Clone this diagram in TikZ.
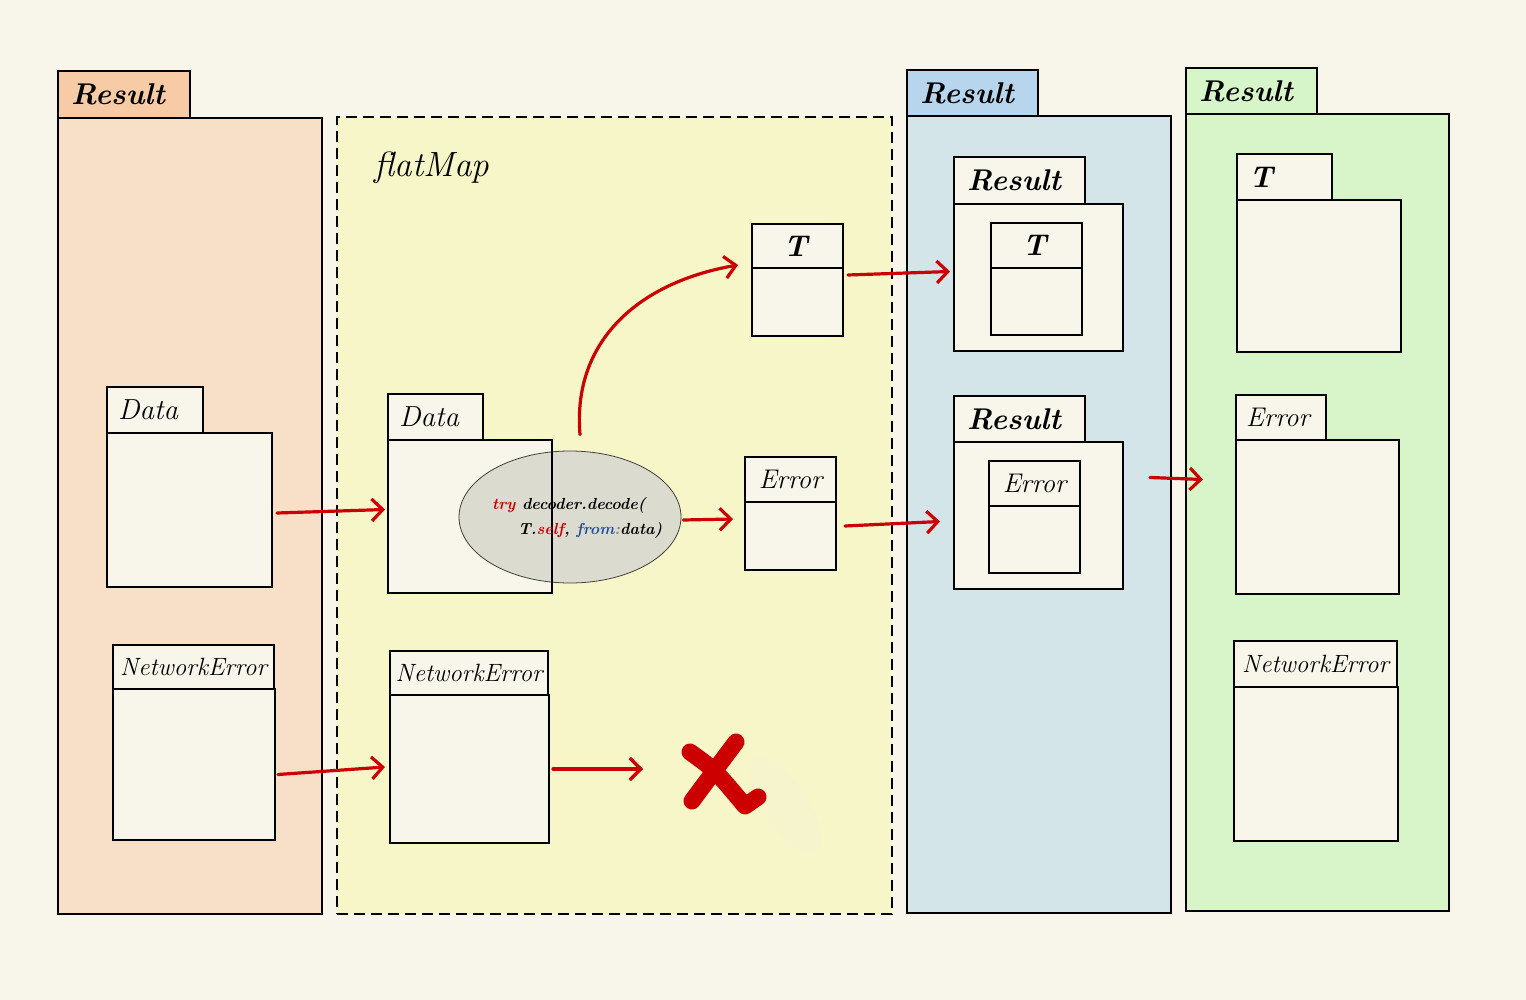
\documentclass[tikz,border=0pt]{standalone}
\usetikzlibrary{arrows.meta,fit,shapes.geometric}
\definecolor{bg}{HTML}{F8F6EA}
\definecolor{cream}{HTML}{F8F6EA}
\definecolor{orTab}{HTML}{F6CBA6}
\definecolor{orBody}{HTML}{F8E0C8}
\definecolor{yeBody}{HTML}{F7F6C8}
\definecolor{blTab}{HTML}{B7D5EC}
\definecolor{blBody}{HTML}{D4E5E9}
\definecolor{grTab}{HTML}{D6F5C8}
\definecolor{grBody}{HTML}{D7F5C8}
\definecolor{arrred}{HTML}{CC0000}
\definecolor{ellgrey}{HTML}{DCDBCF}
\definecolor{codeblue}{HTML}{1F4E9A}
\definecolor{smudge}{HTML}{F3F3D6}
\begin{document}
\begin{tikzpicture}[x=1pt,y=-1pt,
  box/.style={draw=black, line width=1.6pt, fill=cream, inner sep=0pt, outer sep=0pt},
  pan/.style={draw=black, line width=1.6pt, inner sep=0pt, outer sep=0pt},
  arr/.style={draw=arrred, line width=3.2pt, line cap=round, line join=round,
    -{Straight Barb[length=11pt,width=22pt,line width=3.2pt]}},
  rlbl/.style={font=\fontsize{30}{30}\selectfont\bfseries\itshape, inner sep=0pt, anchor=west},
  dlbl/.style={font=\fontsize{29}{29}\selectfont\itshape, inner sep=0pt, anchor=west},
  nlbl/.style={font=\fontsize{25}{25}\selectfont\itshape, inner sep=0pt},
  tlbl/.style={font=\fontsize{30}{30}\selectfont\bfseries\itshape, inner sep=0pt},
  elbl/.style={font=\fontsize{27}{27}\selectfont\itshape, inner sep=0pt},
  code/.style={font=\fontsize{16}{16}\selectfont\bfseries\itshape, inner sep=0pt}
]
\useasboundingbox[fill=bg] (0,0) rectangle (1526,1000);

% ---------- Orange panel ----------
\node[pan, fill=orBody, fit={(58,118) (322,914)}] (opan) {};
\node[pan, fill=orTab, fit={(58,71) (190,118)}] (otab) {};
\node[rlbl] (otabl) at ([xshift=13pt]otab.west) {Result};
\node[box, fit={(107,387) (203,433)}] (odatat) {};
\node[box, fit={(107,433) (272,587)}] (odatab) {};
\node[dlbl] (odatal) at ([xshift=11pt]odatat.west) {Data};
\node[box, fit={(113,645) (274,689)}] (oneth) {};
\node[box, fit={(113,689) (275,840)}] (onetb) {};
\node[nlbl] (onetl) at (oneth.center) {NetworkError};

% ---------- Yellow dashed panel ----------
\node[pan, fill=yeBody, dash pattern=on 11pt off 6pt, fit={(337,117) (892,914)}] (ypan) {};
\node[font=\fontsize{35}{35}\selectfont\itshape, inner sep=0pt] (yflat) at (432,168) {flatMap};
\node[fill=smudge, opacity=0.4, ellipse, rotate=-55, minimum width=110pt, minimum height=45pt, inner sep=0pt] (smudge) at (785,805) {};
\node[box, fit={(388,394) (483,440)}] (ydatat) {};
\node[box, fit={(388,440) (552,593)}] (ydatab) {};
\node[dlbl] (ydatal) at ([xshift=11pt]ydatat.west) {Data};
\node[draw=black!75, line width=0.8pt, fill=ellgrey, ellipse, minimum width=222pt, minimum height=132pt, inner sep=0pt] (ell) at (570,517) {};
\draw[black, line width=1.6pt] (ydatab.north east) -- (ydatab.south east);
\node[code, anchor=west] (code1) at (492,505) {\textcolor{arrred}{try} decoder.decode(};
\node[code, anchor=west] (code2) at (518,530) {T.\textcolor{arrred}{self}, \textcolor{codeblue}{from}\textcolor{black!50}{:}data)};
\node[box, fit={(390,651) (548,695)}] (yneth) {};
\node[box, fit={(390,695) (549,843)}] (ynetb) {};
\node[nlbl] (ynetl) at (yneth.center) {NetworkError};
\node[box, fit={(752,224) (843,268)}] (yth) {};
\node[box, fit={(752,268) (843,336)}] (ytb) {};
\node[tlbl] (ytl) at ([xshift=-2pt]yth.center) {T};
\node[box, fit={(745,457) (836,502)}] (yeh) {};
\node[box, fit={(745,502) (836,570)}] (yeb) {};
\node[elbl] (yel) at (yeh.center) {Error};

% red X
\coordinate (xa) at (690,752);
\coordinate (xb) at (745,806);
\coordinate (xc) at (758,797);
\coordinate (xd) at (736,742);
\coordinate (xe) at (692,801);
\draw[arrred, line width=17pt, line cap=round, line join=round] (xa) .. controls (715,770) .. (xb) -- (xc);
\draw[arrred, line width=17pt, line cap=round] (xd) .. controls (715,770) .. (xe);

% ---------- Blue panel ----------
\node[pan, fill=blBody, fit={(907,116) (1171,913)}] (bpan) {};
\node[pan, fill=blTab, fit={(907,70) (1038,116)}] (btab) {};
\node[rlbl] (btabl) at ([xshift=13pt]btab.west) {Result};
\node[box, fit={(954,157) (1085,204)}] (br1t) {};
\node[box, fit={(954,204) (1123,351)}] (br1b) {};
\node[rlbl] (br1l) at ([xshift=13pt]br1t.west) {Result};
\node[box, fit={(991,223) (1082,268)}] (bth) {};
\node[box, fit={(991,268) (1082,335)}] (btb) {};
\node[tlbl] (btl) at ([xshift=-2pt]bth.center) {T};
\node[box, fit={(954,396) (1085,442)}] (br2t) {};
\node[box, fit={(954,442) (1123,589)}] (br2b) {};
\node[rlbl] (br2l) at ([xshift=13pt]br2t.west) {Result};
\node[box, fit={(989,461) (1080,506)}] (beh) {};
\node[box, fit={(989,506) (1080,573)}] (beb) {};
\node[elbl] (bel) at (beh.center) {Error};

% ---------- Green panel ----------
\node[pan, fill=grBody, fit={(1186,114) (1449,911)}] (gpan) {};
\node[pan, fill=grTab, fit={(1186,68) (1317,114)}] (gtab) {};
\node[rlbl] (gtabl) at ([xshift=13pt]gtab.west) {Result};
\node[box, fit={(1237,154) (1332,200)}] (gtt) {};
\node[box, fit={(1237,200) (1401,352)}] (gtb) {};
\node[tlbl, anchor=west] (gtl) at ([xshift=12pt]gtt.west) {T};
\node[box, fit={(1236,395) (1326,440)}] (get) {};
\node[box, fit={(1236,440) (1399,594)}] (geb) {};
\node[elbl, anchor=west] (gel) at ([xshift=10pt]get.west) {Error};
\node[box, fit={(1234,641) (1397,687)}] (gneth) {};
\node[box, fit={(1234,687) (1398,841)}] (gnetb) {};
\node[nlbl] (gnetl) at (gneth.center) {NetworkError};

% ---------- Arrows ----------
\draw[arr] ([shift={(5,3)}]odatab.east) -- ([shift={(-3,-7)}]ydatab.west);
\draw[arr] ([shift={(3,10)}]onetb.east) -- ([shift={(-5,-2)}]ynetb.west);
\draw[arr] ([shift={(4,0)}]ynetb.east) -- ([shift={(-115,-28)}]xc);
\draw[arr] ([shift={(10,-16)}]ell.north) .. controls (572,340) and (640,282) .. ([shift={(-14,19)}]yth.west);
\draw[arr] ([shift={(2,3)}]ell.east) -- ([shift={(-12,-17)}]yeb.west);
\draw[arr] ([shift={(5,29)}]yth.east) -- ([shift={(-4,-6)}]br1b.west);
\draw[arr] ([shift={(9,-10)}]yeb.east) -- ([shift={(-14,6)}]br2b.west);
\draw[arr] ([shift={(-21,-37)}]bpan.east) -- ([shift={(17,-33)}]gpan.west);

\end{tikzpicture}
\end{document}
